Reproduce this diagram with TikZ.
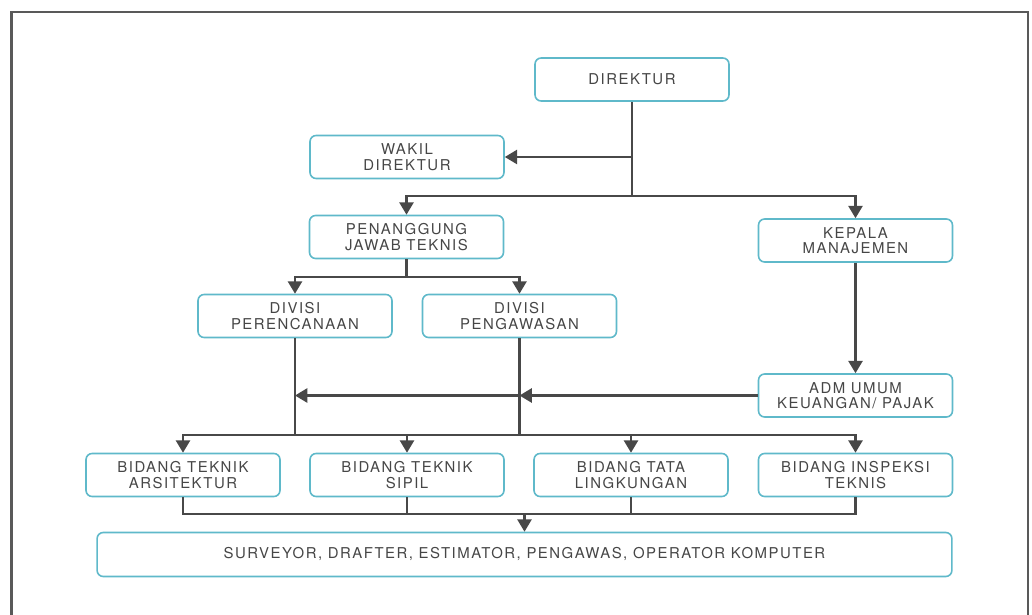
\documentclass[tikz,border=0pt]{standalone}
\usepackage{fontspec}
\usetikzlibrary{arrows.meta}
\newfontfamily\orgfont[LetterSpace=10]{TeX Gyre Heros}
\definecolor{boxline}{RGB}{95,185,202}
\definecolor{linegray}{RGB}{72,72,72}
\definecolor{txtgray}{RGB}{70,70,70}

\begin{document}
\begin{tikzpicture}[x=0.02cm,y=-0.02cm,
  unit/.style={draw=boxline,line width=0.9pt,rounded corners=3.5pt,fill=white,
    minimum width=3.88cm,minimum height=0.86cm,inner sep=0pt,align=center,
    text=txtgray,font=\orgfont\fontsize{8.5}{8.8}\selectfont},
  wire/.style={draw=linegray,line width=1.3pt},
  arr/.style={wire,-{Triangle[length=7pt,width=8pt]}}]
\useasboundingbox (0,0) rectangle (1032,615);
\fill[white] (0,0) rectangle (1032,615);
\draw[gray!70!black,line width=1.6pt] (11.5,640) -- (11.5,12) -- (1028,12) -- (1028,640);
		\node[unit] (Dir) at (632,79.5) {DIREKTUR};
		\node[unit] (Wakil) at (407,157) {WAKIL\\DIREKTUR};
		\node[unit] (PJT) at (406.5,237) {PENANGGUNG\\JAWAB TEKNIS};
		\node[unit] (KM) at (855.5,240.5) {KEPALA\\MANAJEMEN};
		\node[unit] (DP1) at (295,316) {DIVISI\\PERENCANAAN};
		\node[unit] (DP2) at (519.5,316) {DIVISI\\PENGAWASAN};
		\node[unit] (ADM) at (855.5,395.5) {ADM UMUM\\KEUANGAN/ PAJAK};
		\node[unit] (B1) at (183,475) {BIDANG TEKNIK\\ARSITEKTUR};
		\node[unit] (B2) at (407,475) {BIDANG TEKNIK\\SIPIL};
		\node[unit] (B3) at (631,475) {BIDANG TATA\\LINGKUNGAN};
		\node[unit] (B4) at (855.5,475) {BIDANG INSPEKSI\\TEKNIS};
		\node[unit,minimum width=17.1cm,minimum height=0.88cm] (S) at (524.5,554.5) {SURVEYOR, DRAFTER, ESTIMATOR, PENGAWAS, OPERATOR KOMPUTER};
		\coordinate (J1) at (Dir.south |- Wakil.east);
		\coordinate (J2) at (632,196);
		\coordinate (J3) at (406.5,277);
		\coordinate (A1) at (DP1.south |- ADM.west);
		\coordinate (A2) at (DP2.south |- ADM.west);
		\coordinate (J4) at (519.5,435);
		\coordinate (J5) at (524.5,514);
		\draw[wire] (Dir.south) -- (J2);
		\draw[arr] (J1) -- (Wakil.east);
		\draw[arr] (J2) -| (PJT.north);
		\draw[arr] (J2) -| (KM.north);
		\draw[wire] (PJT.south) -- (J3);
		\draw[arr] (J3) -| (DP1.north);
		\draw[arr] (J3) -| (DP2.north);
		\draw[arr] (KM.south) -- (ADM.north);
		\draw[arr] (ADM.west) -- (A2);
		\draw[arr] (A2) -- (A1);
		\draw[wire] (DP1.south) -- (DP1.south |- J4);
		\draw[wire] (DP2.south) -- (J4);
		\foreach \b in {B1,B2,B3,B4}
			\draw[arr] (J4) -| (\b.north);
		\foreach \b in {B1,B2,B3,B4}
			\draw[wire] (\b.south) |- (J5);
		\draw[arr] (J5) -- (S.north);
\end{tikzpicture}
\end{document}
